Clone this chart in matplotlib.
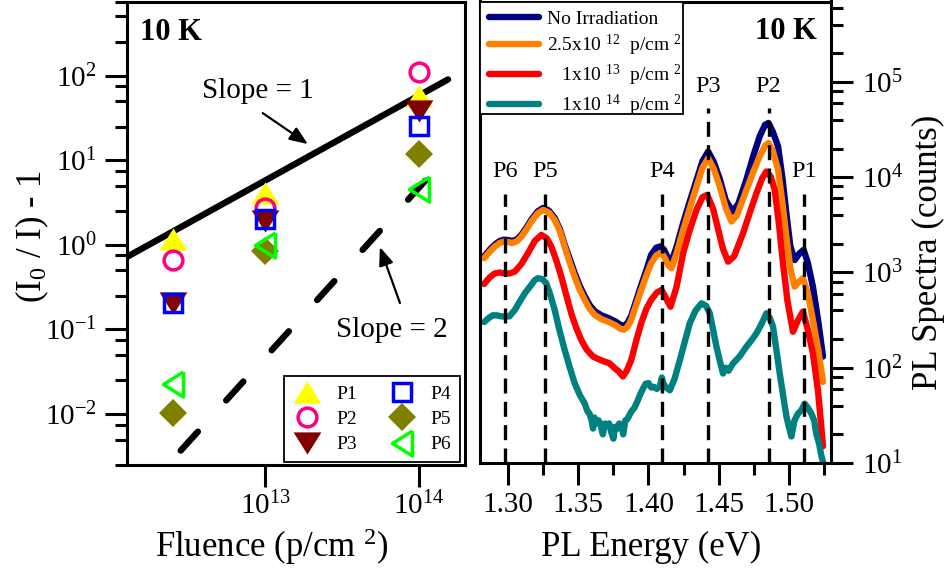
import matplotlib
matplotlib.use("Agg")
import matplotlib.pyplot as plt
from matplotlib.patches import Rectangle
from matplotlib.ticker import (LogLocator, NullLocator, NullFormatter,
                               MultipleLocator, FormatStrFormatter)

plt.rcParams.update({
    "font.family": ["Liberation Serif", "DejaVu Serif"],
    "mathtext.fontset": "custom",
    "mathtext.rm": "Liberation Serif",
    "mathtext.it": "Liberation Serif:italic",
    "mathtext.bf": "Liberation Serif:bold",
    "axes.unicode_minus": False,
})

# ---------------- left panel: (I0/I) - 1 versus proton fluence ----------------
fluence = [2.5e12, 1e13, 1e14]
p1 = [1.16, 4.1, 57]
p2 = [0.66, 2.7, 111]
p3 = [0.205, 1.9, 38]
p4 = [0.203, 2.0, 25.3]
p5 = [0.0102, 0.85, 11.8]
p6 = [0.0224, 0.99, 4.55]

slope1_x = [1.25e12, 1.55e14]
slope1_y = [0.72, 90]
slope2_x = [2.8e12, 1.27e14]
slope2_y = [0.0037, 7.6]

# ---------------- right panel: PL spectra at 10 K ----------------
energy_none = [1.2830, 1.2870, 1.2905, 1.2940, 1.2970, 1.3000, 1.3030, 1.3065, 1.3095,
               1.3130, 1.3166, 1.3210, 1.3249, 1.3290, 1.3332, 1.3370, 1.3403, 1.3440,
               1.3474, 1.3510, 1.3546, 1.3580, 1.3617, 1.3665, 1.3711, 1.3760, 1.3800,
               1.3825, 1.3850, 1.3877, 1.3910, 1.3948, 1.3985, 1.4019, 1.4055, 1.4085,
               1.4110, 1.4140, 1.4164, 1.4200, 1.4247, 1.4295, 1.4342, 1.4385, 1.4425,
               1.4465, 1.4508, 1.4550, 1.4598, 1.4640, 1.4698, 1.4750, 1.4792, 1.4830,
               1.4855, 1.4885, 1.4923, 1.4955, 1.4982, 1.5010, 1.5041, 1.5075, 1.5105,
               1.5135, 1.5171, 1.5210, 1.5243]
counts_none = [1480, 1740, 1960, 2140, 2210, 2190, 2140, 2240, 2490,
               2950, 3590, 4370, 4760, 4470, 3740, 2820, 1960, 1380,
               990, 724, 564, 457, 393, 355, 334, 309, 282,
               275, 295, 350, 495, 735, 1060, 1530, 1820, 1880,
               1740, 1410, 1300, 1860, 3310, 5620, 9330, 14800, 18600,
               14450, 9550, 5750, 4370, 5250, 9550, 17400, 26900, 35500,
               37150, 30200, 21100, 9550, 4170, 1900, 1350, 1585, 1730,
               1260, 711, 302, 131]

energy_25e12 = [1.2830, 1.2870, 1.2905, 1.2940, 1.2970, 1.3000, 1.3030, 1.3065, 1.3095,
                1.3130, 1.3166, 1.3210, 1.3249, 1.3290, 1.3332, 1.3370, 1.3403, 1.3440,
                1.3474, 1.3510, 1.3546, 1.3580, 1.3617, 1.3665, 1.3711, 1.3760, 1.3800,
                1.3825, 1.3850, 1.3877, 1.3910, 1.3948, 1.3985, 1.4019, 1.4055, 1.4085,
                1.4110, 1.4140, 1.4164, 1.4200, 1.4247, 1.4295, 1.4342, 1.4385, 1.4425,
                1.4465, 1.4508, 1.4550, 1.4591, 1.4630, 1.4698, 1.4750, 1.4792, 1.4830,
                1.4855, 1.4885, 1.4923, 1.4955, 1.4982, 1.5010, 1.5041, 1.5070, 1.5100,
                1.5135, 1.5171, 1.5210, 1.5243]
counts_25e12 = [1413, 1660, 1870, 2040, 2110, 2090, 2040, 2140, 2380,
                2820, 3430, 4170, 4550, 4270, 3570, 2690, 1870, 1260,
                906, 661, 515, 417, 359, 324, 305, 282, 257,
                251, 269, 318, 447, 656, 933, 1250, 1510, 1600,
                1480, 1200, 1110, 1585, 2800, 4790, 7980, 12600, 15850,
                12300, 7980, 4790, 3430, 3980, 7380, 11750, 16500, 21400,
                22900, 19000, 12000, 5250, 2380, 1120, 711, 794, 871,
                603, 318, 151, 71]

energy_1e13 = [1.2830, 1.2870, 1.2905, 1.2940, 1.2977, 1.3010, 1.3048, 1.3095, 1.3142,
               1.3190, 1.3237, 1.3275, 1.3308, 1.3345, 1.3379, 1.3415, 1.3450, 1.3485,
               1.3521, 1.3560, 1.3605, 1.3645, 1.3688, 1.3720, 1.3759, 1.3790, 1.3818,
               1.3845, 1.3877, 1.3910, 1.3948, 1.3985, 1.4019, 1.4060, 1.4093, 1.4125,
               1.4157, 1.4200, 1.4247, 1.4295, 1.4342, 1.4385, 1.4418, 1.4460, 1.4497,
               1.4530, 1.4567, 1.4610, 1.4673, 1.4720, 1.4769, 1.4810, 1.4840, 1.4870,
               1.4899, 1.4930, 1.4958, 1.4990, 1.5029, 1.5065, 1.5100, 1.5135, 1.5171,
               1.5207, 1.5230, 1.5243]
counts_1e13 = [759, 891, 977, 1000, 977, 977, 1023, 1230, 1600,
               2140, 2480, 2290, 1870, 1320, 906, 575, 373, 263,
               196, 155, 131, 123, 116, 112, 99, 91, 81,
               93, 120, 186, 293, 417, 515, 617, 656, 537,
               437, 708, 1600, 2820, 4550, 6170, 6530, 4680, 2800,
               1780, 1300, 1480, 2570, 4170, 6810, 9770, 11500, 10200,
               7380, 3160, 1250, 501, 239, 316, 388, 251, 142,
               58, 25, 15]

energy_1e14 = [1.2830, 1.2860, 1.2890, 1.2920, 1.2950, 1.2977, 1.3010, 1.3048, 1.3085,
               1.3119, 1.3160, 1.3190, 1.3213, 1.3245, 1.3272, 1.3300, 1.3332, 1.3365,
               1.3403, 1.3440, 1.3474, 1.3510, 1.3546, 1.3565, 1.3580, 1.3595, 1.3605,
               1.3615, 1.3630, 1.3645, 1.3660, 1.3675, 1.3690, 1.3705, 1.3720, 1.3735,
               1.3750, 1.3762, 1.3778, 1.3792, 1.3805, 1.3820, 1.3835, 1.3850, 1.3865,
               1.3880, 1.3900, 1.3920, 1.3940, 1.3960, 1.3980, 1.4000, 1.4020, 1.4040,
               1.4060, 1.4080, 1.4095, 1.4105, 1.4125, 1.4152, 1.4185, 1.4223, 1.4260,
               1.4294, 1.4335, 1.4377, 1.4410, 1.4437, 1.4460, 1.4484, 1.4510, 1.4531,
               1.4550, 1.4570, 1.4602, 1.4650, 1.4698, 1.4740, 1.4769, 1.4805, 1.4840,
               1.4865, 1.4887, 1.4910, 1.4935, 1.4960, 1.4982, 1.5000, 1.5018, 1.5040,
               1.5065, 1.5090, 1.5112, 1.5135, 1.5160, 1.5180, 1.5196, 1.5215, 1.5231,
               1.5245]
counts_1e14 = [302, 331, 355, 355, 347, 344, 347, 405, 501,
               605, 724, 832, 871, 851, 771, 589, 405, 251,
               154, 100, 69, 52, 42, 35, 33, 28, 23,
               30, 26, 28, 25, 20, 26, 25, 26, 21,
               18, 24, 23, 26, 25, 20, 28, 29, 32,
               35, 38, 44, 52, 60, 68, 69, 62, 63,
               60, 63, 79, 69, 62, 58, 76, 120, 191,
               293, 398, 475, 447, 373, 251, 167, 115, 87,
               100, 93, 111, 132, 167, 200, 230, 288, 373,
               331, 270, 158, 87, 50, 31, 24, 19, 28,
               33, 36, 42, 38, 33, 28, 20, 16, 12,
               10]

peak_names = ["P6", "P5", "P4", "P3", "P2", "P1"]
peak_energy = [1.2976, 1.3261, 1.4094, 1.4426, 1.4855, 1.5108]
peak_line_top = [6600, 6600, 6600, 53000, 53000, 6600]
peak_label_at = [10100, 10100, 10100, 79000, 79000, 10100]

spectra_labels = ["No Irradiation",
                  r"2.5x10 $^{12}$  p/cm $^{2}$",
                  r"   1x10 $^{13}$  p/cm $^{2}$",
                  r"   1x10 $^{14}$  p/cm $^{2}$"]

# ---------------- figure ----------------
W, H = 949, 573
fig = plt.figure(figsize=(W / 100, H / 100), dpi=100)
ax1 = fig.add_axes([127 / W, 1 - 465 / H, 338 / W, 463.5 / H])
ax2 = fig.add_axes([480 / W, 1 - 463 / H, 351 / W, 461.5 / H])

SPINE = 2.2
for ax in (ax1, ax2):
    for s in ax.spines.values():
        s.set_linewidth(SPINE)

# open/filled marker shapes (flattened triangles)
tri_up = [(-1, -0.8), (1, -0.8), (0, 0.8), (-1, -0.8)]
tri_down = [(-1, 0.8), (1, 0.8), (0, -0.8), (-1, 0.8)]
tri_left = [(0.8, 1), (0.8, -1), (-0.8, 0), (0.8, 1)]

ax1.plot(slope1_x, slope1_y, color="k", lw=4.6, solid_capstyle="round", zorder=2)
ax1.plot(slope2_x, slope2_y, color="k", lw=4.6, dashes=(4.0, 6.6),
         dash_capstyle="round", zorder=2)

ax1.plot(fluence, p1, ls="none", marker=tri_up, ms=20, mfc="#FFFF00", mec="#FFFF00",
         mew=0, label="P1", zorder=3)
ax1.plot(fluence, p2, ls="none", marker="o", ms=13.5, mfc="none", mec="#FF0080",
         mew=2.5, label="P2", zorder=3)
ax1.plot(fluence, p3, ls="none", marker=tri_down, ms=20, mfc="#800000", mec="#800000",
         mew=0, label="P3", zorder=3)
ax1.plot(fluence, p4, ls="none", marker="s", ms=12.5, mfc="none", mec="#0000FF",
         mew=2.5, label="P4", zorder=3)
ax1.plot(fluence, p5, ls="none", marker="D", ms=14.5, mfc="#808000", mec="#808000",
         mew=0, label="P5", zorder=3)
ax1.plot(fluence, p6, ls="none", marker=tri_left, ms=18, mfc="none", mec="#00FF00",
         mew=2.5, label="P6", zorder=3)

ax1.set_xscale("log")
ax1.set_yscale("log")
ax1.set_xlim(1.25e12, 2e14)
ax1.set_ylim(0.0025, 750)
ax1.xaxis.set_major_locator(LogLocator(base=10, numticks=50))
ax1.xaxis.set_minor_locator(NullLocator())
ax1.yaxis.set_major_locator(LogLocator(base=10, numticks=50))
ax1.yaxis.set_minor_locator(LogLocator(base=10, subs=(2.5, 5.0, 7.5), numticks=50))
ax1.yaxis.set_minor_formatter(NullFormatter())
ax1.tick_params(which="both", direction="out", top=False, right=False, width=SPINE)
ax1.tick_params(which="major", length=16, labelsize=21)
ax1.tick_params(which="minor", length=8.5)
ax1.tick_params(axis="y", which="major", pad=6)
ax1.tick_params(axis="x", which="major", pad=3)

ax1.set_xlabel(r"Fluence (p/cm $^{2}$)", fontsize=25, va="center")
ax1.xaxis.set_label_coords(0.429, -0.177)
ax1.set_ylabel(r"(I$_{0}$ / I) - 1", fontsize=25, va="center")
ax1.yaxis.set_label_coords(-0.281, 0.492)

ax1.text(0.038, 0.934, "10 K", transform=ax1.transAxes, fontsize=22,
         fontweight="bold", ha="left", va="center")
ax1.text(8.9e12, 65, "Slope = 1", fontsize=21, ha="center", va="center")
ax1.text(6.7e13, 0.098, "Slope = 2", fontsize=21, ha="center", va="center")
arrow = dict(arrowstyle="-|>,head_length=0.55,head_width=0.22", lw=1.6, color="k",
             shrinkA=0, shrinkB=0, mutation_scale=20)
ax1.annotate("", xy=(1.89e13, 15.5), xytext=(9.6e12, 36), arrowprops=arrow)
ax1.annotate("", xy=(5.57e13, 0.94), xytext=(7.53e13, 0.205), arrowprops=arrow)

leg1 = ax1.legend(ncol=2, loc="lower right", bbox_to_anchor=(0.985, 0.006),
                  borderaxespad=0, fontsize=14, frameon=True, fancybox=False,
                  framealpha=1, edgecolor="k", borderpad=0.45, labelspacing=0.4,
                  handlelength=1.45, handletextpad=0.75, columnspacing=1.6)
leg1.get_frame().set_linewidth(1.3)

# ---------------- right panel ----------------
curve_kw = dict(lw=4.6, solid_capstyle="round", solid_joinstyle="round")
ax2.plot(energy_none, counts_none, color="#000080", label=spectra_labels[0], **curve_kw)
ax2.plot(energy_25e12, counts_25e12, color="#FF8000", label=spectra_labels[1], **curve_kw)
ax2.plot(energy_1e13, counts_1e13, color="#FF0000", label=spectra_labels[2], **curve_kw)
ax2.plot(energy_1e14, counts_1e14, color="#008080", label=spectra_labels[3], **curve_kw)

ax2.vlines(peak_energy, 10, peak_line_top, colors="k", lw=2.4,
           linestyles=(0, (4.5, 2.5)), zorder=4)
for name, e, yv in zip(peak_names, peak_energy, peak_label_at):
    ax2.text(e, yv, name, fontsize=17.5, ha="center", va="baseline")

ax2.set_yscale("log")
ax2.set_xlim(1.28, 1.53)
ax2.set_ylim(10, 7e5)
ax2.xaxis.set_major_locator(MultipleLocator(0.05))
ax2.xaxis.set_minor_locator(MultipleLocator(0.025))
ax2.xaxis.set_major_formatter(FormatStrFormatter("%.2f"))
ax2.yaxis.set_major_locator(LogLocator(base=10, numticks=50))
ax2.yaxis.set_minor_locator(LogLocator(base=10, subs=(2.0, 4.0, 6.0, 8.0), numticks=50))
ax2.yaxis.set_minor_formatter(NullFormatter())
ax2.yaxis.tick_right()
ax2.tick_params(which="both", direction="out", top=False, left=False, right=True,
                width=SPINE)
ax2.tick_params(which="major", length=16, labelsize=21)
ax2.tick_params(which="minor", length=8.5)
ax2.tick_params(axis="y", which="major", pad=6)
ax2.tick_params(axis="x", which="major", pad=5)

ax2.set_xlabel("PL Energy (eV)", fontsize=25, va="center")
ax2.xaxis.set_label_coords(0.487, -0.182)
ax2.yaxis.set_label_position("right")
ax2.set_ylabel("PL Spectra (counts)", fontsize=25, rotation=90, va="center")
ax2.yaxis.set_label_coords(1.279, 0.456)

ax2.text(0.96, 0.934, "10 K", transform=ax2.transAxes, fontsize=22,
         fontweight="bold", ha="right", va="center")

# legend entries without their own frame; the box is drawn as a separate patch
leg2 = ax2.legend(loc="upper left", bbox_to_anchor=(0, 1), borderaxespad=0,
                  fontsize=14, frameon=False, borderpad=0.45, labelspacing=0.25,
                  handlelength=2.6, handletextpad=0.4)
leg2.set_zorder(6)
ax2.add_patch(Rectangle((0, 0.757), 0.577, 0.243, transform=ax2.transAxes,
                        facecolor="white", edgecolor="k", lw=1.3, zorder=5))

fig.savefig("out.png", dpi=100)
